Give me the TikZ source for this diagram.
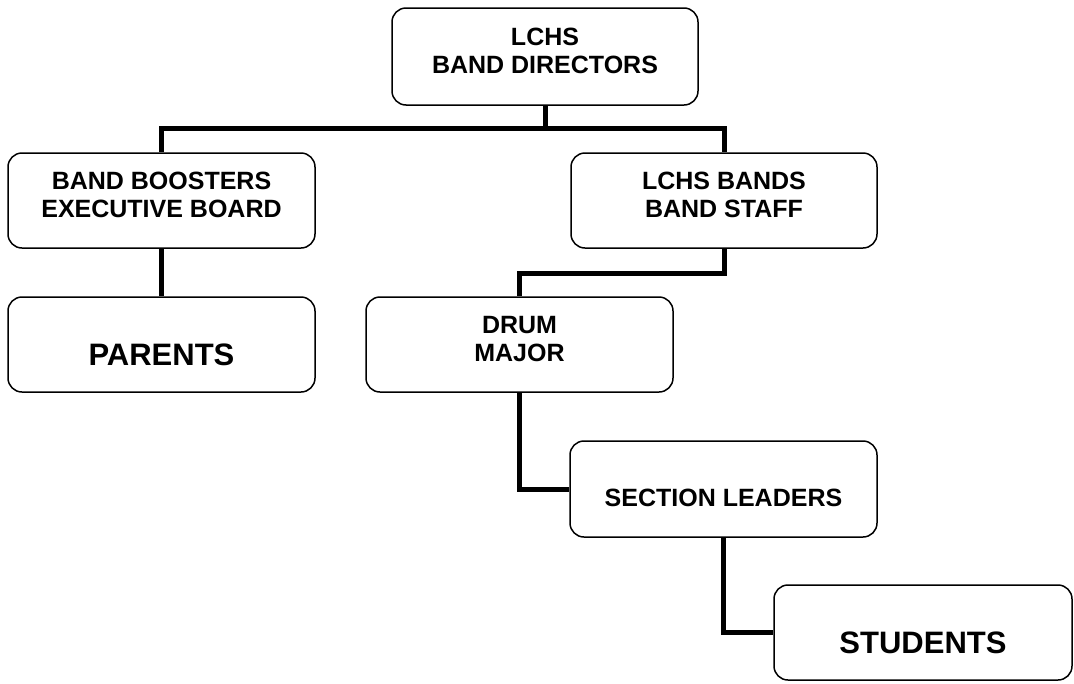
\documentclass[tikz,border=0pt]{standalone}
\usepackage{fontspec}
\setmainfont{Liberation Sans}
\usetikzlibrary{positioning}

\begin{document}
\begin{tikzpicture}[x=1pt, y=-1pt,
	my box/.style = {draw,
                   line width=1.5pt,
                   rounded corners=14pt,
                   minimum width=306pt,
                   minimum height=95pt,
                   inner sep=0pt, align=center,
                   font=\bfseries\fontsize{25}{28}\selectfont},
	big box/.style = {my box,
                   text height=42pt, text depth=0pt,
                   font=\bfseries\fontsize{31}{36}\selectfont},
	my link/.style = {line width=5pt}
                   ]
\useasboundingbox (0,0) rectangle (1074,683);

\node[my box, minimum height=97pt] (dir) at (545,56.5) {LCHS\\BAND DIRECTORS\\[-16pt]\mbox{}};
\node[my box, minimum width=307pt] (boost) at (161.5,200.5) {BAND BOOSTERS\\EXECUTIVE BOARD\\[-16pt]\mbox{}};
\node[my box] (staff) at (724,200.5) {LCHS BANDS\\BAND STAFF\\[-16pt]\mbox{}};
\node[big box, minimum width=307pt] (parents) at (161.5,344.5) {PARENTS};
\node[my box, minimum width=307pt] (drum) at (519.5,344.5) {DRUM\\MAJOR\\[-16pt]\mbox{}};
\node[my box, minimum width=307pt, minimum height=96pt,
	text height=35pt, text depth=0pt] (sect) at (723.5,489) {SECTION LEADERS};
\node[big box, minimum width=298pt] (stud) at (923,632.5) {STUDENTS};

	% lines between the boxes
	\coordinate (bus) at (545,128);
	\draw[my link] (dir.south) -- (bus);
	\draw[my link] (bus) -| (boost.north);
	\draw[my link] (bus) -| (staff.north);
	\draw[my link] (boost.south) -- (parents.north);
	\draw[my link] (staff.south) -- ++(0,25) -| (drum.north);
	\draw[my link] (drum.south) |- (sect.west);
	\draw[my link] (sect.south) |- (stud.west);
\end{tikzpicture}
\end{document}
